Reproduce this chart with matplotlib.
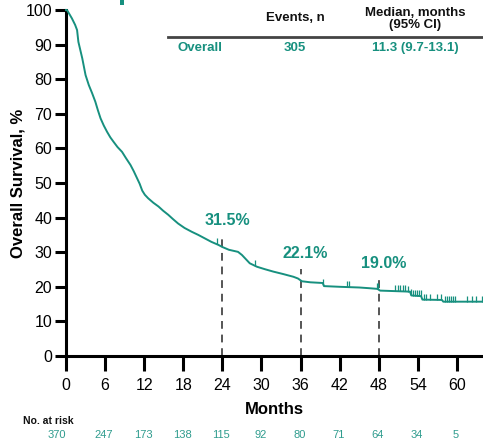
import matplotlib
matplotlib.use("Agg")
import matplotlib.pyplot as plt
from matplotlib.patches import Rectangle

plt.rcParams["font.family"] = ["Liberation Sans", "DejaVu Sans"]

# KM curve (months, survival %)
months = [0, 0.15, 0.9, 1.4, 1.7, 1.9, 2.5, 3.0, 3.5, 4.0, 4.5, 4.9, 5.3, 5.8, 6.3,
          6.8, 7.3, 7.9, 8.6, 9.2, 9.9, 10.4, 10.9, 11.3, 11.7, 12.1, 12.6, 13.4,
          14.2, 14.9, 15.7, 16.4, 17.2, 18.2, 19.3, 20.3, 21.3, 22.3, 23.4, 24.0,
          25.0, 26.4, 27.0, 27.5, 28.2, 29.3, 30.5, 31.8, 33.3, 34.9, 35.6, 36.2,
          37.5, 39.4, 39.6, 42.0, 45.0, 46.5, 47.8, 48.2, 52.8, 53.0, 54.5, 54.7,
          57.7, 57.9, 64.0]
survival = [100, 100, 97.6, 95.7, 94.2, 90.8, 86.0, 81.2, 78.3, 76.0, 73.5, 71.0, 68.7,
            66.6, 64.8, 63.2, 61.9, 60.4, 59.0, 57.2, 55.2, 53.4, 51.4, 49.8, 47.8,
            46.6, 45.6, 44.3, 43.2, 42.0, 40.8, 39.6, 38.3, 37.0, 35.9, 35.0, 34.0,
            33.0, 32.1, 31.5, 30.7, 30.1, 29.2, 28.2, 26.8, 25.8, 25.1, 24.4, 23.7,
            22.9, 22.4, 21.6, 21.3, 21.1, 20.2, 20.0, 19.8, 19.6, 19.4, 18.9, 18.6,
            17.5, 17.3, 16.3, 16.2, 15.7, 15.7]

# censoring ticks
censor_times = [23.1, 29.0, 39.5, 43.1, 43.4, 47.7, 47.9, 50.5, 50.9, 51.3, 51.7, 52.1,
                52.5, 53.0, 53.3, 53.6, 53.9, 54.2, 54.5, 54.9, 55.3, 55.9, 56.9, 57.6,
                58.2, 58.5, 58.8, 59.1, 59.4, 59.7, 61.5, 62.3, 63.0, 63.8]

landmark_months = [24, 36, 48]
landmark_values = [31.5, 22.1, 19.0]
landmark_labels = ["31.5%", "22.1%", "19.0%"]

xticks = [0, 6, 12, 18, 24, 30, 36, 42, 48, 54, 60]
at_risk = [370, 247, 173, 138, 115, 92, 80, 71, 64, 34, 5]

TEAL = "#17907f"
RISK_TEAL = "#2f9c8e"
DARK = "#111111"


def surv_at(t):
    # survival value on the drawn line at time t
    for i in range(len(months) - 1):
        if months[i] <= t <= months[i + 1]:
            m0, m1 = months[i], months[i + 1]
            if m1 == m0:
                return survival[i + 1]
            f = (t - m0) / (m1 - m0)
            return survival[i] + f * (survival[i + 1] - survival[i])
    return survival[-1]


fig = plt.figure(figsize=(4.83, 4.43), dpi=100)
ax = fig.add_axes([66 / 483, 87 / 443, 1 - 66 / 483, (356 - 10) / 443])

ax.plot(months, survival, color=TEAL, lw=1.4, clip_on=False, zorder=3)
# upward censor ticks
ax.plot(censor_times, [surv_at(t) for t in censor_times], ls="none",
        marker=[(0, 0), (0, 1)], ms=9, mew=0.9, color=TEAL, clip_on=False, zorder=3)

# landmark dashed lines and labels
for m, v, lab in zip(landmark_months, landmark_values, landmark_labels):
    ax.plot([m, m], [0, v + 3], ls=(0, (4, 3)), color="#555555", lw=1.4, zorder=2)
    ax.text(m + 0.7, v + 5.5, lab, color=TEAL, fontsize=11.5, fontweight="bold",
            ha="center", va="bottom")

ax.set_xlim(0, 64)
ax.set_ylim(0, 100)
ax.set_xticks(xticks)
ax.set_yticks(range(0, 101, 10))
ax.tick_params(axis="x", direction="out", length=11, width=2.2, labelsize=11.5, pad=5)
ax.tick_params(axis="y", direction="out", length=8, width=2.2, labelsize=11.5, pad=2)
for side in ["top", "right"]:
    ax.spines[side].set_visible(False)
for side in ["left", "bottom"]:
    ax.spines[side].set_linewidth(2.2)
ax.set_xlabel("Months", fontsize=12, fontweight="bold", labelpad=6)
ax.set_ylabel("Overall Survival, %", fontsize=12, fontweight="bold", labelpad=0)

# number at risk row
fig.text(23 / 483, 1 - 421 / 443, "No. at risk", fontsize=7.5, fontweight="bold",
         color=DARK, ha="left", va="center")
for i, (m, n) in enumerate(zip(xticks, at_risk)):
    xf = ax.transData.transform((m, 0))[0] / fig.bbox.width
    shift = 9 if i == 0 else 1
    fig.text(xf - shift / 483, 1 - 435 / 443, str(n), fontsize=8, color=RISK_TEAL,
             ha="center", va="center")

# summary table
fig.text(295 / 483, 1 - 18 / 443, "Events, n", fontsize=9.5, fontweight="bold",
         color=DARK, ha="center", va="center")
fig.text(415 / 483, 1 - 19 / 443, "Median, months\n(95% CI)", fontsize=9.5,
         fontweight="bold", color=DARK, ha="center", va="center", linespacing=1.0)
fig.add_artist(plt.Line2D([168 / 483, 1.0], [1 - 37 / 443, 1 - 37 / 443],
                          color="#444444", lw=2))
fig.text(177 / 483, 1 - 48 / 443, "Overall", fontsize=9.5, fontweight="bold",
         color=TEAL, ha="left", va="center")
fig.text(295 / 483, 1 - 48 / 443, "305", fontsize=9.5, fontweight="bold",
         color=TEAL, ha="center", va="center")
fig.text(415 / 483, 1 - 48 / 443, "11.3 (9.7-13.1)", fontsize=9.5, fontweight="bold",
         color=TEAL, ha="center", va="center")

# fragment of a cropped title at the top edge
fig.add_artist(Rectangle((120 / 483, 1 - 5 / 443), 4 / 483, 5 / 443,
                         transform=fig.transFigure, color=TEAL, lw=0))

fig.savefig("out.png", dpi=100)
